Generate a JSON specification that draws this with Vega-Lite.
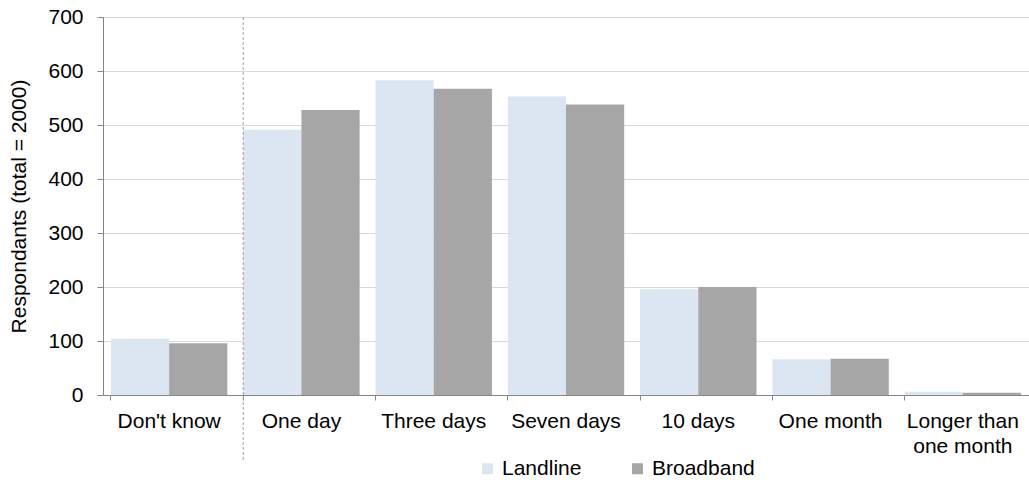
{
  "$schema": "https://vega.github.io/schema/vega-lite/v6.json",
  "autosize": {"type": "none"},
  "padding": {"left": 103, "top": 17, "right": 0, "bottom": 85},
  "width": 926,
  "height": 378,
  "background": "white",
  "config": {
    "font": "Liberation Sans",
    "view": {"stroke": null},
    "axis": {"labelFont": "Liberation Sans", "titleFont": "Liberation Sans"}
  },
  "layer": [
    {
      "data": {
        "values": [
          {"category": "Don't know", "series": "Landline", "value": 104},
          {"category": "Don't know", "series": "Broadband", "value": 96},
          {"category": "One day", "series": "Landline", "value": 491},
          {"category": "One day", "series": "Broadband", "value": 528},
          {"category": "Three days", "series": "Landline", "value": 583},
          {"category": "Three days", "series": "Broadband", "value": 567},
          {"category": "Seven days", "series": "Landline", "value": 553},
          {"category": "Seven days", "series": "Broadband", "value": 538},
          {"category": "10 days", "series": "Landline", "value": 196},
          {"category": "10 days", "series": "Broadband", "value": 200},
          {"category": "One month", "series": "Landline", "value": 66},
          {"category": "One month", "series": "Broadband", "value": 67},
          {"category": "Longer than one month", "series": "Landline", "value": 6},
          {"category": "Longer than one month", "series": "Broadband", "value": 4}
        ]
      },
      "mark": {"type": "bar"},
      "encoding": {
        "x": {
          "field": "category",
          "type": "nominal",
          "sort": null,
          "scale": {
            "domain": ["Don't know", "One day", "Three days", "Seven days", "10 days", "One month", "Longer than one month"],
            "paddingInner": 0.12,
            "paddingOuter": 0.06
          },
          "axis": {
            "title": null,
            "labelAngle": 0,
            "labelFontSize": 21,
            "labelColor": "#000000",
            "labelPadding": 10,
            "labelLineHeight": 25,
            "labelBaseline": "top",
            "labelExpr": "datum.label == 'Longer than one month' ? ['Longer than', 'one month'] : datum.label",
            "bandPosition": 0,
            "tickSize": 5,
            "tickColor": "#868686",
            "domainColor": "#868686",
            "grid": false
          }
        },
        "xOffset": {"field": "series", "type": "nominal", "sort": ["Landline", "Broadband"], "scale": {"paddingInner": 0, "paddingOuter": 0}},
        "y": {
          "field": "value",
          "type": "quantitative",
          "scale": {"domain": [0, 700]},
          "axis": {
            "title": "Respondants (total = 2000)",
            "titleFontSize": 21,
            "titleFontWeight": "normal",
            "titleColor": "#000000",
            "titlePadding": 18,
            "labelFontSize": 21,
            "labelColor": "#000000",
            "labelPadding": 14,
            "values": [0, 100, 200, 300, 400, 500, 600, 700],
            "tickSize": 6,
            "tickColor": "#868686",
            "domainColor": "#868686",
            "gridColor": "#D9D9D9",
            "grid": true
          }
        },
        "color": {
          "field": "series",
          "type": "nominal",
          "sort": ["Landline", "Broadband"],
          "scale": {"domain": ["Landline", "Broadband"], "range": ["#DCE6F2", "#A6A6A6"]},
          "legend": {
            "title": null,
            "orient": "none",
            "direction": "horizontal",
            "legendX": 374,
            "legendY": 441,
            "symbolType": "square",
            "symbolSize": 121,
            "symbolStrokeWidth": 0,
            "labelFontSize": 21,
            "labelColor": "#000000",
            "labelOffset": 4,
            "columnPadding": 45
          }
        }
      }
    },
    {
      "data": {"values": [{"divider": "One day"}]},
      "mark": {"type": "rule", "color": "#A0A0A0", "strokeDash": [3, 2], "strokeWidth": 1},
      "encoding": {
        "x": {"field": "divider", "type": "nominal", "bandPosition": 0},
        "y": {"datum": 700},
        "y2": {"datum": -124}
      }
    }
  ]
}
